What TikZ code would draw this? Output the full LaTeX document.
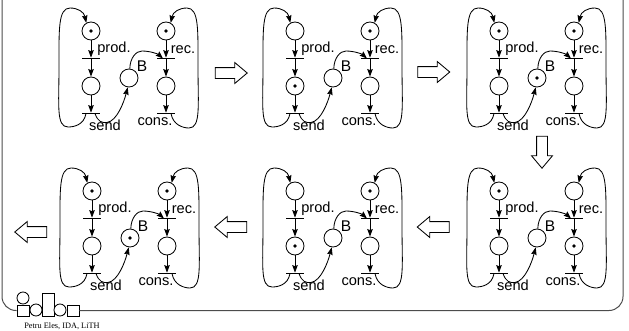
\documentclass[tikz,border=0pt]{standalone}
\usepackage{fontspec}
\setmainfont{Liberation Sans}
\newfontfamily\footfont{Liberation Serif}
\usetikzlibrary{arrows.meta,shapes.arrows}

\begin{document}
\begin{tikzpicture}[x=1pt,y=-1pt,>={Stealth[length=7.5pt,width=5.5pt,inset=1pt]},line width=0.85pt,node distance=27.5pt,
  place/.style={circle,draw,minimum size=18pt,inner sep=0pt},
  unmarked/.style={},
  marked/.style={path picture={\fill (path picture bounding box.center) circle (1.8pt);}},
  tbar/.style={rectangle,fill=black,minimum width=18.5pt,minimum height=0.85pt,inner sep=0pt},
  arc/.style={->,shorten >=0pt},
  lab/.style={anchor=base,inner sep=0pt,font=\fontsize{14.6}{16}\selectfont},
  hollow/.style={single arrow,draw,inner xsep=0pt,inner ysep=5pt,minimum height=32pt,
    single arrow head extend=5pt,single arrow tip angle=80},
  logo box/.style={rectangle,draw,fill=white,inner sep=0pt},
  logo ring/.style={circle,draw,fill=white,inner sep=0pt,minimum size=12pt}]

  \useasboundingbox (0,0) rectangle (629,330);

  % one net per state
  \foreach \n/\ox/\oy/\ta/\tb/\tc/\td/\te in {
      a/0/0/marked/unmarked/marked/unmarked/unmarked,
      b/204/0/unmarked/marked/marked/unmarked/unmarked,
      c/408/0/marked/unmarked/marked/unmarked/marked,
      d/408/160/marked/unmarked/unmarked/marked/unmarked,
      e/204/160/unmarked/marked/marked/unmarked/unmarked,
      f/1/160/marked/unmarked/marked/unmarked/marked} {
    \begin{scope}[shift={(\ox,\oy)}]
      \node[place,\ta] (\n p1) at (91,31) {};
      \node[tbar] (\n prod) [below of=\n p1] {};
      \node[place,\tb] (\n p2) [below of=\n prod] {};
      \node[tbar] (\n send) [below of=\n p2] {};
      \node[place,\tc] (\n p3) [right of=\n p1,node distance=75pt] {};
      \node[tbar] (\n rec) [below of=\n p3] {};
      \node[place,\td] (\n p4) [below of=\n rec] {};
      \node[tbar] (\n cons) [below of=\n p4] {};
      \node[place,\te] (\n buf) at (129,78) {};

      \node[lab] (\n lprod) at (114,52) {prod.};
      \node[lab] (\n lrec) at (183,53) {rec.};
      \node[lab] (\n lsend) at (105,130.5) {send};
      \node[lab] (\n lcons) at (155,125) {cons.};
      \node[lab,font=\fontsize{15.5}{17}\selectfont] (\n lbuf) at (142,71) {B};

      \path[arc]
        (\n p1) edge (\n prod)
        (\n prod) edge (\n p2)
        (\n p2) edge (\n send)
        (\n p3) edge (\n rec)
        (\n rec) edge (\n p4)
        (\n p4) edge (\n cons);

      \draw[arc] ([xshift=-5pt]\n send.center) .. controls (84,125) and (74,127) .. (68,127)
        .. controls (56,127) and (59,105) .. (59,67)
        .. controls (59,30) and (58,8) .. (70,8)
        .. controls (78,8) and (84,12) .. (\n p1.120);
      \draw[arc] ([xshift=5pt]\n cons.center) .. controls (173,125) and (183,128) .. (189,128)
        .. controls (201,128) and (198,105) .. (198,67)
        .. controls (198,30) and (199,8) .. (187,8)
        .. controls (179,8) and (173,12) .. (\n p3.60);
      \draw[arc] ([xshift=4pt]\n send.center) .. controls (98,122) and (102,123) .. (107,122.5)
        .. controls (117,121) and (124,102) .. (\n buf.262);
      \draw[arc] (\n buf.85) .. controls (130,58) and (136,51) .. (142,51)
        .. controls (150,51) and (158,54) .. ([xshift=-3pt]\n rec.center);
    \end{scope}
  }

  % arrows between the states
  \node[hollow] (ab) at (228,73) {};
  \node[hollow] (bc) at (430.5,72) {};
  \node[hollow,rotate=-90] (cd) at (542,149) {};
  \node[hollow,rotate=180] (de) at (436.5,227) {};
  \node[hollow,rotate=180] (ef) at (234,227) {};
  \node[hollow,rotate=180] (fout) at (34,232) {};

  % logo and frame
  \node[logo box,minimum width=12pt,minimum height=11pt] (q1) at (23,310.5) {};
  \node[logo ring] (q2) at (23,298) {};
  \node[logo ring] (q3) at (36,310) {};
  \node[logo box,minimum width=12pt,minimum height=23pt] (q4) at (48,304.5) {};
  \node[logo ring] (q5) at (60,310) {};
  \node[logo box,minimum width=12pt,minimum height=11pt] (q6) at (73,310.5) {};
  \coordinate (ftl) at (2,0);
  \coordinate (ftr) at (623,0);
  \draw[rounded corners=14pt,black!70,line width=1pt] (ftl) |- (q1.west);
  \draw[rounded corners=14pt,black!70,line width=1pt] (q6.east) -| (ftr);
  \node[anchor=base,inner sep=0pt,font=\footfont\fontsize{8.3}{9}\selectfont] (sign) at (62,328.5) {Petru Eles, IDA, LiTH};
\end{tikzpicture}
\end{document}
